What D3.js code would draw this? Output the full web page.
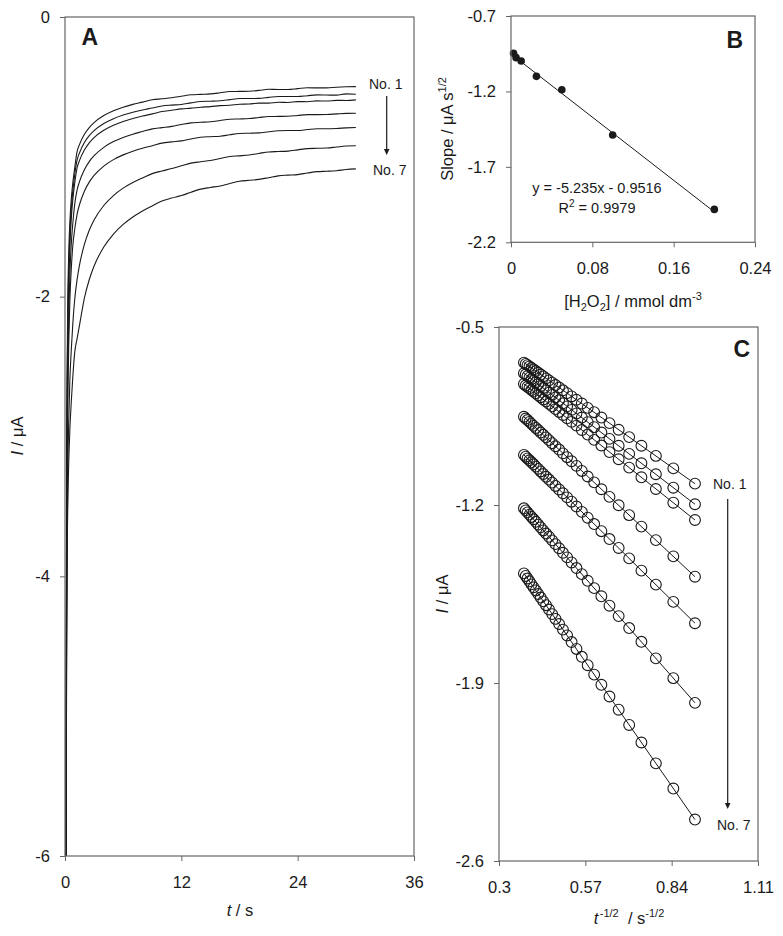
<!DOCTYPE html>
<html><head><meta charset="utf-8">
<script src="https://cdn.jsdelivr.net/npm/d3@7"></script>
<style>
body{margin:0;background:#fff}
text{font-family:"Liberation Sans",Arial,sans-serif;fill:#1a1a1a}
</style>
</head><body>
<svg id="c" width="783" height="936"></svg>
<script>
// ---------------- Panel A data: current transients ----------------
const tA = [0.1,0.13,0.17,0.22,0.3,0.4,0.5,0.65,0.8,1.0,1.25,1.5,2,2.5,3,
  4,5,6,7,8,9,10,11,12,13,14,15,16,17,18,19,20,21,22,23,24,25,26,27,28,29,30];
const curveA1 = [-6.3,-4.4,-3.2,-2.5,-1.97,-1.65,-1.47,-1.30,-1.19,-1.08,-0.961,-0.911,-0.839,-0.791,-0.755,
  -0.705,-0.670,-0.645,-0.625,-0.609,-0.592,-0.585,-0.578,-0.567,-0.556,-0.553,-0.550,-0.542,-0.533,-0.532,-0.531,-0.525,-0.517,-0.518,-0.518,-0.512,-0.506,-0.507,-0.507,-0.502,-0.499,-0.498];
const curveA2 = [-6.4,-4.7,-3.45,-2.7,-2.1,-1.76,-1.56,-1.37,-1.25,-1.13,-1.022,-0.971,-0.898,-0.849,-0.813,
  -0.762,-0.727,-0.701,-0.681,-0.665,-0.651,-0.636,-0.630,-0.626,-0.614,-0.604,-0.602,-0.599,-0.591,-0.583,-0.583,-0.582,-0.575,-0.568,-0.569,-0.569,-0.563,-0.557,-0.558,-0.559,-0.550,-0.552];
const curveA3 = [-6.5,-4.9,-3.6,-2.85,-2.25,-1.88,-1.65,-1.44,-1.31,-1.19,-1.078,-1.025,-0.951,-0.900,-0.862,
  -0.810,-0.774,-0.747,-0.726,-0.708,-0.693,-0.676,-0.667,-0.657,-0.652,-0.645,-0.641,-0.634,-0.631,-0.624,-0.622,-0.616,-0.616,-0.610,-0.611,-0.605,-0.606,-0.600,-0.601,-0.596,-0.597,-0.593];
const curveA4 = [-6.6,-5.1,-3.9,-3.1,-2.5,-2.1,-1.85,-1.62,-1.48,-1.34,-1.236,-1.176,-1.092,-1.034,-0.992,
  -0.932,-0.891,-0.861,-0.838,-0.819,-0.800,-0.791,-0.782,-0.769,-0.757,-0.753,-0.749,-0.740,-0.731,-0.729,-0.726,-0.719,-0.712,-0.711,-0.710,-0.704,-0.698,-0.698,-0.697,-0.693,-0.689,-0.688];
const curveA5 = [-6.7,-5.3,-4.1,-3.3,-2.7,-2.3,-2.03,-1.8,-1.64,-1.52,-1.409,-1.341,-1.246,-1.181,-1.133,
  -1.066,-1.020,-0.986,-0.960,-0.939,-0.921,-0.902,-0.893,-0.886,-0.872,-0.860,-0.856,-0.853,-0.842,-0.833,-0.831,-0.829,-0.821,-0.814,-0.812,-0.812,-0.805,-0.799,-0.799,-0.797,-0.793,-0.790];
const curveA6 = [-6.7,-5.4,-4.4,-3.75,-3.2,-2.85,-2.6,-2.38,-2.2,-2.02,-1.877,-1.773,-1.626,-1.525,-1.451,
  -1.348,-1.277,-1.224,-1.184,-1.151,-1.120,-1.101,-1.084,-1.064,-1.045,-1.035,-1.026,-1.012,-0.998,-0.993,-0.987,-0.976,-0.965,-0.962,-0.959,-0.950,-0.941,-0.939,-0.937,-0.930,-0.923,-0.921];
const curveA7 = [-6.8,-5.5,-4.6,-3.9,-3.45,-3.15,-2.95,-2.75,-2.58,-2.40,-2.30,-2.203,-2.010,-1.879,-1.781,
  -1.645,-1.552,-1.483,-1.430,-1.387,-1.351,-1.316,-1.295,-1.277,-1.253,-1.231,-1.219,-1.208,-1.191,-1.175,-1.168,-1.161,-1.149,-1.136,-1.131,-1.127,-1.116,-1.106,-1.103,-1.099,-1.091,-1.086];
const curvesA = [curveA1,curveA2,curveA3,curveA4,curveA5,curveA6,curveA7];
const ticksAx = [0,12,24,36];
const ticksAy = [0,-2,-4,-6];

// ---------------- Panel B data: slope vs [H2O2] ----------------
const concB = [0.0025,0.005,0.01,0.025,0.05,0.1,0.2];
const slopeB = [-0.947,-0.976,-0.998,-1.100,-1.189,-1.489,-1.982];
const fitB = {slope:-5.235, intercept:-0.9516};
const ticksBx = [0,0.08,0.16,0.24];
const ticksBy = [-0.7,-1.2,-1.7,-2.2];

// ---------------- Panel C data: I vs t^-1/2 ----------------
const xC = [0.9129,0.8452,0.7906,0.7454,0.7071,0.6742,0.6455,0.6202,0.5976,0.5774,0.5590,0.5423,0.5270,0.5130,0.5000,
  0.4880,0.4767,0.4663,0.4564,0.4472,0.4385,0.4303,0.4226,0.4152,0.4082,0.4016,0.3953,0.3892,0.3835,0.3780];
const seriesC1 = [-1.116,-1.056,-1.007,-0.967,-0.933,-0.904,-0.878,-0.856,-0.835,-0.818,-0.801,-0.786,-0.773,-0.760,-0.749,
  -0.738,-0.728,-0.719,-0.710,-0.702,-0.694,-0.687,-0.680,-0.673,-0.667,-0.661,-0.655,-0.650,-0.645,-0.640];
const seriesC2 = [-1.197,-1.132,-1.079,-1.036,-0.999,-0.967,-0.940,-0.915,-0.894,-0.874,-0.856,-0.840,-0.826,-0.812,-0.800,
  -0.788,-0.777,-0.767,-0.758,-0.749,-0.740,-0.732,-0.725,-0.718,-0.711,-0.705,-0.699,-0.693,-0.687,-0.682];
const seriesC3 = [-1.259,-1.191,-1.137,-1.091,-1.053,-1.020,-0.992,-0.966,-0.944,-0.923,-0.905,-0.888,-0.873,-0.859,-0.846,
  -0.834,-0.823,-0.812,-0.802,-0.793,-0.785,-0.776,-0.769,-0.761,-0.754,-0.748,-0.741,-0.735,-0.730,-0.724];
const seriesC4 = [-1.482,-1.402,-1.338,-1.285,-1.240,-1.201,-1.168,-1.138,-1.111,-1.088,-1.066,-1.046,-1.028,-1.012,-0.997,
  -0.982,-0.969,-0.957,-0.945,-0.934,-0.924,-0.915,-0.905,-0.897,-0.889,-0.881,-0.873,-0.866,-0.860,-0.853];
const seriesC5 = [-1.665,-1.581,-1.513,-1.458,-1.410,-1.369,-1.334,-1.303,-1.275,-1.250,-1.227,-1.206,-1.187,-1.170,-1.154,
  -1.139,-1.125,-1.112,-1.100,-1.089,-1.078,-1.068,-1.058,-1.049,-1.040,-1.032,-1.024,-1.017,-1.010,-1.003];
const seriesC6 = [-1.978,-1.881,-1.803,-1.738,-1.684,-1.637,-1.596,-1.559,-1.527,-1.498,-1.472,-1.448,-1.426,-1.406,-1.388,
  -1.370,-1.354,-1.339,-1.325,-1.312,-1.300,-1.288,-1.277,-1.266,-1.256,-1.247,-1.238,-1.229,-1.221,-1.213];
const seriesC7 = [-2.437,-2.315,-2.216,-2.134,-2.065,-2.005,-1.953,-1.907,-1.867,-1.830,-1.797,-1.766,-1.739,-1.713,-1.690,
  -1.668,-1.648,-1.629,-1.611,-1.594,-1.579,-1.564,-1.550,-1.536,-1.524,-1.512,-1.500,-1.489,-1.479,-1.469];
const seriesC = [seriesC1,seriesC2,seriesC3,seriesC4,seriesC5,seriesC6,seriesC7];
const ticksCx = [0.3,0.57,0.84,1.11];
const ticksCy = [-0.5,-1.2,-1.9,-2.6];

// ---------------- drawing ----------------
const svg = d3.select("#c");
const INK = "#1a1a1a", FRAME = "#666";
const fmt = d => String(d);

function axes(xs, ys, xt, yt){
  const [x0,x1] = xs.range(), [y1,y0] = ys.range();
  const gx = svg.append("g").attr("transform",`translate(0,${y1})`)
    .call(d3.axisBottom(xs).tickValues(xt).tickSize(5).tickPadding(15).tickFormat(fmt));
  const gy = svg.append("g").attr("transform",`translate(${x0},0)`)
    .call(d3.axisLeft(ys).tickValues(yt).tickSize(5).tickPadding(10).tickFormat(fmt));
  [gx,gy].forEach(g=>{
    g.select(".domain").remove();
    g.selectAll("line").attr("stroke",FRAME);
    g.selectAll("text").attr("font-size",16.5).attr("fill",INK)
      .attr("font-family",'"Liberation Sans",Arial,sans-serif');
  });
  svg.append("rect").attr("x",x0).attr("y",y0).attr("width",x1-x0).attr("height",y1-y0)
    .attr("fill","none").attr("stroke",FRAME).attr("stroke-width",1.2);
}

function arrow(x, y0, y1){
  svg.append("line").attr("x1",x).attr("x2",x).attr("y1",y0).attr("y2",y1-5)
    .attr("stroke",INK).attr("stroke-width",1.2);
  svg.append("path").attr("d",`M${x-2.8},${y1-6}L${x+2.8},${y1-6}L${x},${y1}Z`).attr("fill",INK);
}

// ----- Panel A -----
const xA = d3.scaleLinear().domain([0,36]).range([65,414]);
const yA = d3.scaleLinear().domain([-6,0]).range([856,17]);
svg.append("clipPath").attr("id","clipA").append("rect")
  .attr("x",65).attr("y",17).attr("width",349).attr("height",839);
const lineA = d3.line().x((d,i)=>xA(tA[i])).y(d=>yA(d)).curve(d3.curveMonotoneX);
svg.append("g").attr("clip-path","url(#clipA)").selectAll("path").data(curvesA).join("path")
  .attr("d",lineA).attr("fill","none").attr("stroke",INK).attr("stroke-width",1.1);
axes(xA,yA,ticksAx,ticksAy);
svg.append("text").attr("x",81.5).attr("y",45).attr("font-size",23).attr("font-weight","bold").text("A");
svg.append("text").attr("x",369).attr("y",89).attr("font-size",14).text("No. 1");
svg.append("text").attr("x",373).attr("y",175).attr("font-size",14).text("No. 7");
arrow(386.7,96,155);
{
  const t = svg.append("text").attr("x",240).attr("y",916).attr("font-size",16.5).attr("text-anchor","middle");
  t.append("tspan").attr("font-style","italic").text("t");
  t.append("tspan").text(" / s");
  const ty = svg.append("text").attr("transform","translate(23,436) rotate(-90)")
    .attr("font-size",16.5).attr("text-anchor","middle");
  ty.append("tspan").attr("font-style","italic").text("I");
  ty.append("tspan").text(" / μA");
}

// ----- Panel B -----
const xB = d3.scaleLinear().domain([0,0.24]).range([511,755]);
const yB = d3.scaleLinear().domain([-2.2,-0.7]).range([242.3,16]);
const fitEnds = [0, d3.max(concB)];
svg.append("line")
  .attr("x1",xB(fitEnds[0])).attr("y1",yB(fitB.slope*fitEnds[0]+fitB.intercept))
  .attr("x2",xB(fitEnds[1])).attr("y2",yB(fitB.slope*fitEnds[1]+fitB.intercept))
  .attr("stroke",INK).attr("stroke-width",1);
svg.append("g").selectAll("circle").data(concB).join("circle")
  .attr("cx",d=>xB(d)).attr("cy",(d,i)=>yB(slopeB[i])).attr("r",3.8).attr("fill",INK);
axes(xB,yB,ticksBx,ticksBy);
svg.append("text").attr("x",743).attr("y",48).attr("font-size",23).attr("font-weight","bold")
  .attr("text-anchor","end").text("B");
svg.append("text").attr("x",597).attr("y",193).attr("font-size",14.5).attr("text-anchor","middle")
  .text("y = -5.235x - 0.9516");
{
  const r = svg.append("text").attr("x",597).attr("y",213).attr("font-size",14.5).attr("text-anchor","middle");
  r.append("tspan").text("R");
  r.append("tspan").attr("font-size",10).attr("dy",-6).text("2");
  r.append("tspan").attr("dy",6).text(" = 0.9979");
  const bx = svg.append("text").attr("x",633).attr("y",307).attr("font-size",16.5).attr("text-anchor","middle");
  bx.append("tspan").text("[H");
  bx.append("tspan").attr("font-size",11).attr("dy",4).text("2");
  bx.append("tspan").attr("dy",-4).text("O");
  bx.append("tspan").attr("font-size",11).attr("dy",4).text("2");
  bx.append("tspan").attr("dy",-4).text("] / mmol dm");
  bx.append("tspan").attr("font-size",11).attr("dy",-7).text("-3");
  const by = svg.append("text").attr("transform","translate(453,129) rotate(-90)")
    .attr("font-size",16.5).attr("text-anchor","middle");
  by.append("tspan").text("Slope / μA s");
  by.append("tspan").attr("font-size",11).attr("dy",-7).text("1/2");
}

// ----- Panel C -----
const xCs = d3.scaleLinear().domain([0.3,1.11]).range([499,758]);
const yCs = d3.scaleLinear().domain([-2.6,-0.5]).range([861,327]);
function lsq(xs, ys){
  const mx = d3.mean(xs), my = d3.mean(ys);
  let sxy=0, sxx=0;
  xs.forEach((x,i)=>{sxy+=(x-mx)*(ys[i]-my); sxx+=(x-mx)*(x-mx);});
  const b = sxy/sxx; return {b, a: my-b*mx};
}
const xMin = d3.min(xC), xMax = d3.max(xC);
seriesC.forEach(s=>{
  const f = lsq(xC,s);
  svg.append("line").attr("x1",xCs(xMin)).attr("y1",yCs(f.a+f.b*xMin))
    .attr("x2",xCs(xMax)).attr("y2",yCs(f.a+f.b*xMax))
    .attr("stroke",INK).attr("stroke-width",1);
  svg.append("g").selectAll("circle").data(s).join("circle")
    .attr("cx",(d,i)=>xCs(xC[i])).attr("cy",d=>yCs(d)).attr("r",5.4)
    .attr("fill","none").attr("stroke",INK).attr("stroke-width",1.1);
});
axes(xCs,yCs,ticksCx,ticksCy);
svg.append("text").attr("x",750).attr("y",357).attr("font-size",23).attr("font-weight","bold")
  .attr("text-anchor","end").text("C");
svg.append("text").attr("x",713).attr("y",489).attr("font-size",14).text("No. 1");
svg.append("text").attr("x",717).attr("y",830).attr("font-size",14).text("No. 7");
arrow(727.7,499,809);
{
  const cx = svg.append("text").attr("x",629).attr("y",924).attr("font-size",16.5).attr("text-anchor","middle");
  cx.append("tspan").attr("font-style","italic").text("t");
  cx.append("tspan").attr("font-size",11).attr("dx",1.5).attr("dy",-7).text("-1/2");
  cx.append("tspan").attr("dy",7).text("\u00a0\u00a0/ s");
  cx.append("tspan").attr("font-size",11).attr("dy",-7).text("-1/2");
  const cy = svg.append("text").attr("transform","translate(448,594) rotate(-90)")
    .attr("font-size",16.5).attr("text-anchor","middle");
  cy.append("tspan").attr("font-style","italic").text("I");
  cy.append("tspan").text(" / μA");
}
</script>
</body></html>
